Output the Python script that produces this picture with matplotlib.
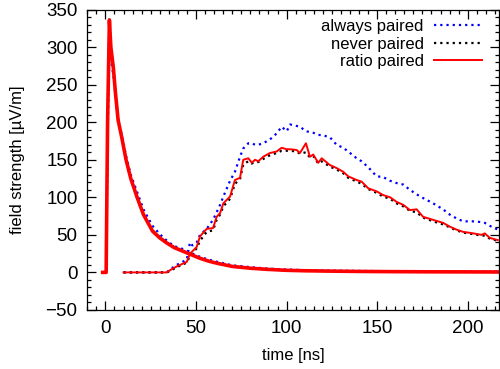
import numpy as np
import matplotlib
matplotlib.use("Agg")
import matplotlib.pyplot as plt
from matplotlib.ticker import MultipleLocator

# ============ data ============
# fast pulse at t ~ 0
t_pulse = [-1.5, 0.4, 1.2, 2.2, 3, 4.4, 5.5, 7, 9, 11.4, 14, 17.5, 21, 26, 30, 34, 38, 43, 48,
           52, 57, 62, 70, 80, 90, 100, 110, 125, 140, 160, 180, 200, 217]
always_pulse = [0, 0, 180, 298, 285, 262, 238, 205, 183, 155, 130, 107, 84, 62, 51, 42, 35, 31, 25,
                21, 17, 14, 9.5, 7, 5, 3.8, 3, 2.4, 2, 1.6, 1.3, 1.1, 1]
never_pulse = [0, 0, 205, 340, 302, 273, 241, 204, 180, 151, 126, 101, 78, 56, 47, 39.5, 33.5, 28.5, 23,
               19, 15, 12, 8, 5.6, 4, 2.8, 2.2, 1.7, 1.3, 1, 0.8, 0.7, 0.6]
ratio_pulse = [0, 0, 200, 336, 300, 272, 240, 203, 180, 150, 125, 100, 77, 55, 46, 39, 33, 28, 23,
               19, 15, 12, 8, 5.6, 4, 2.8, 2.2, 1.7, 1.3, 1, 0.8, 0.7, 0.6]

# delayed bump
t_bump = [10, 33.9, 35.7, 39.4, 44.9, 46.7, 48, 50.4, 52.2, 55.9, 59.4, 61.4, 63.3, 65.1, 68.8, 71.5,
          74.3, 76.1, 78.9, 80.8, 82.6, 84.4, 87.1, 90.8, 94.5, 97.3, 100.1, 102, 105.6, 107.4, 110.7,
          112.9, 114.7, 117.5, 119.4, 123.9, 127.6, 131.3, 134, 138.7, 141.4, 145.1, 149.7, 153.3,
          157.2, 160.7, 164.4, 168.1, 171.8, 175.4, 180.9, 186.4, 190.1, 193.8, 197.5, 203, 207.6,
          209.4, 212.2, 216.6]
always_bump = [0, 0, 4, 10, 17, 40, 36, 40, 50, 58, 70, 80, 90, 101, 122, 134,
               154, 165, 172, 172, 170, 170, 172, 177, 185, 194, 188, 197, 195, 194, 188,
               187, 186, 183, 183, 180, 170, 166, 161, 152, 148, 140, 128, 127,
               122, 119, 117, 110, 104, 99, 92, 84, 77, 72, 68, 68, 67,
               66, 62, 57]
never_bump = [0, 0, 2, 7, 13, 22, 26, 32, 42, 54, 56, 70, 77, 88, 98, 118,
              124, 144, 148, 145, 147, 147, 151, 156, 159, 162, 162, 162, 161, 158, 160,
              153, 155, 145, 148, 141, 137, 132, 126, 121, 118, 111, 106, 101,
              98, 92, 88, 82, 80, 73, 68, 64, 60, 56, 53, 51, 49,
              49, 45, 42]
ratio_bump = [0, 0, 3, 8, 14, 25, 28, 34, 48, 58, 59, 74, 79, 92, 101, 123,
              126, 150, 152, 146, 150, 148, 154, 159, 161, 166, 164, 164, 163, 159, 172,
              154, 157, 146, 152, 143, 139, 134, 128, 123, 121, 112, 108, 103,
              100, 94, 90, 83, 84, 74, 70, 66, 61, 57, 54, 52, 50,
              52, 46, 43]

plt.rcParams['font.family'] = ['Liberation Sans', 'DejaVu Sans']
plt.rcParams['font.size'] = 12

fig = plt.figure(figsize=(5.0, 3.69), dpi=100)
ax = fig.add_axes([0.1746, 0.160, 0.8224, 0.814])

dot = (0, (1, 1.8))
ax.plot(t_pulse, always_pulse, color='blue', lw=1.6, ls=dot)
ax.plot(t_bump, always_bump, color='blue', lw=1.6, ls=dot, label='always paired')
ax.plot(t_pulse, never_pulse, color='black', lw=1.6, ls=dot)
ax.plot(t_bump, never_bump, color='black', lw=1.6, ls=dot, label='never paired')
ax.plot(t_pulse, ratio_pulse, color='red', lw=2.6)
ax.plot(t_bump, ratio_bump, color='red', lw=1.4, label='ratio paired')

ax.set_xlim(-10, 217)
ax.set_ylim(-50, 350)
ax.xaxis.set_major_locator(MultipleLocator(50))
ax.xaxis.set_minor_locator(MultipleLocator(5))
ax.yaxis.set_major_locator(MultipleLocator(50))
ax.yaxis.set_minor_locator(MultipleLocator(10))
ax.tick_params(which='both', direction='in', top=True, right=True, width=0.9)
ax.tick_params(which='major', length=6.5, pad=7, labelsize=13.5)
ax.tick_params(which='minor', length=3.2)
for s in ax.spines.values():
    s.set_linewidth(0.9)

ax.set_xlabel("time [ns]", labelpad=8)
ax.set_ylabel("field strength [µV/m]", labelpad=15)

leg = ax.legend(loc='upper right', bbox_to_anchor=(482 / 500, 1 - 19 / 369),
                bbox_transform=fig.transFigure, frameon=False, markerfirst=False,
                borderpad=0, borderaxespad=0, labelspacing=0.15, handlelength=2.9,
                handletextpad=0.6, fontsize=12)

fig.savefig("out.png", dpi=100)
